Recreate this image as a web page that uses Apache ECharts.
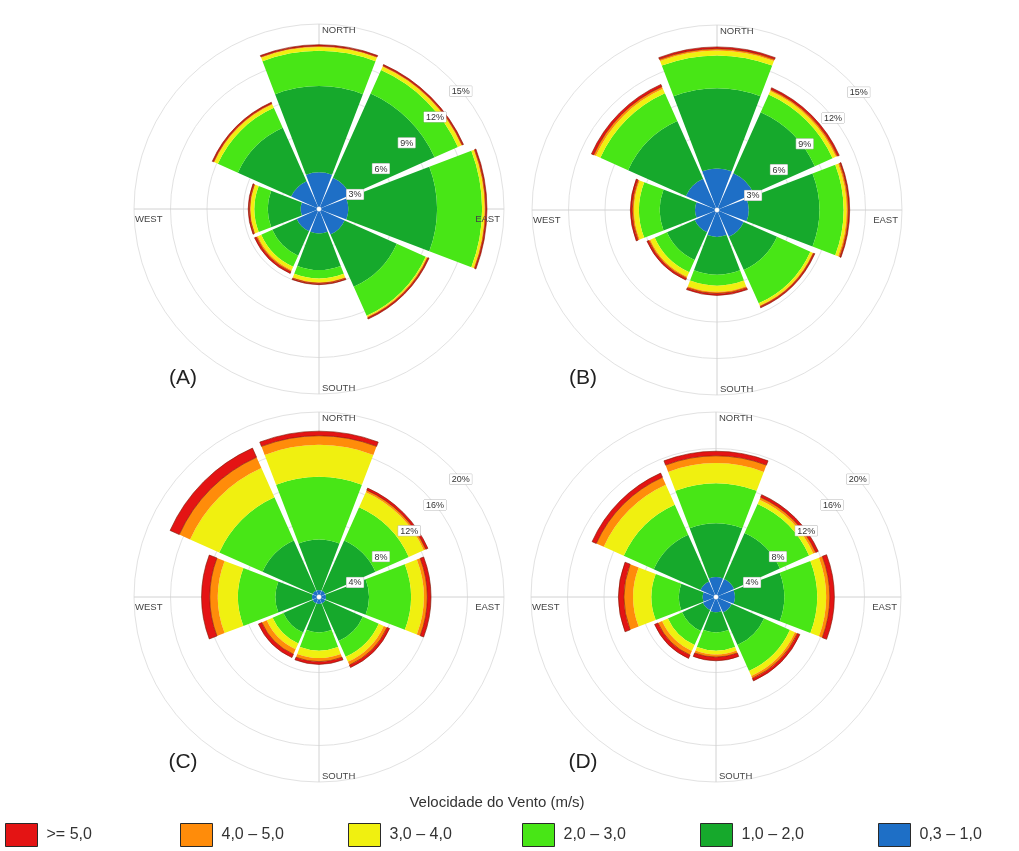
<!DOCTYPE html>
<html>
<head>
<meta charset="utf-8">
<script src="https://cdn.jsdelivr.net/npm/echarts@6/dist/echarts.min.js"></script>
<style>
html,body{margin:0;padding:0;background:#fff;}
#c{width:1019px;height:851px;}
</style>
</head>
<body>
<div id="c"></div>
<script>
// ---------- DATA ----------
const directions = ['N', 'NE', 'E', 'SE', 'S', 'SW', 'W', 'NW'];
const speedClasses = ['0,3 – 1,0', '1,0 – 2,0', '2,0 – 3,0', '3,0 – 4,0', '4,0 – 5,0', '>= 5,0'];
const legendOrder = ['>= 5,0', '4,0 – 5,0', '3,0 – 4,0', '2,0 – 3,0', '1,0 – 2,0', '0,3 – 1,0'];
const cardinalLabels = ['NORTH', 'EAST', 'SOUTH', 'WEST'];
const panelLabels = ['(A)', '(B)', '(C)', '(D)'];
const legendTitle = 'Velocidade do Vento (m/s)';
const ringTicksAB = [3, 6, 9, 12, 15];
const ringTicksCD = [4, 8, 12, 16, 20];

// frequency (%) per direction (N, NE, E, SE, S, SW, W, NW) for each speed class
// Panel A
const a_03_10 = [2.8, 2.6, 2.2, 2.1, 1.8, 1.8, 1.3, 2.3];
const a_10_20 = [7.1, 7.6, 7.3, 4.7, 3.0, 2.2, 2.7, 4.8];
const a_20_30 = [2.9, 2.1, 3.7, 2.6, 0.7, 1.0, 1.1, 1.8];
const a_30_40 = [0.3, 0.3, 0.2, 0.1, 0.3, 0.3, 0.3, 0.3];
const a_40_50 = [0.1, 0.1, 0.1, 0.1, 0.1, 0.15, 0.1, 0.1];
const a_50p   = [0.1, 0.1, 0.1, 0.1, 0.1, 0.15, 0.1, 0.1];
// Panel B
const b_03_10 = [3.2, 3.1, 2.4, 2.2, 2.0, 1.8, 1.6, 2.6];
const b_10_20 = [6.6, 5.5, 5.8, 3.0, 3.1, 2.5, 2.9, 5.2];
const b_20_30 = [2.7, 1.6, 2.0, 3.0, 0.9, 1.1, 1.7, 2.5];
const b_30_40 = [0.4, 0.3, 0.25, 0.2, 0.5, 0.4, 0.4, 0.4];
const b_40_50 = [0.15, 0.15, 0.15, 0.1, 0.15, 0.15, 0.15, 0.2];
const b_50p   = [0.15, 0.15, 0.1, 0.1, 0.15, 0.15, 0.15, 0.2];
// Panel C
const c_03_10 = [0.5, 0.5, 0.5, 0.5, 0.5, 0.5, 0.5, 0.5];
const c_10_20 = [5.5, 6.0, 4.7, 4.5, 3.1, 3.5, 4.0, 6.0];
const c_20_30 = [6.9, 4.0, 4.6, 1.9, 2.0, 1.3, 4.1, 5.2];
const c_30_40 = [3.5, 1.8, 1.4, 0.6, 0.8, 0.7, 2.2, 3.5];
const c_40_50 = [1.0, 0.25, 0.4, 0.4, 0.4, 0.6, 0.9, 1.3];
const c_50p   = [0.5, 0.25, 0.4, 0.3, 0.3, 0.4, 0.9, 1.1];
// Panel D
const d_03_10 = [1.9, 1.9, 1.8, 1.6, 1.4, 1.3, 1.2, 1.6];
const d_10_20 = [5.9, 5.5, 5.4, 3.9, 2.2, 2.5, 2.6, 5.6];
const d_20_30 = [4.4, 3.5, 3.6, 3.1, 2.0, 1.7, 3.0, 3.6];
const d_30_40 = [2.2, 0.5, 1.0, 0.6, 0.4, 0.7, 2.0, 2.4];
const d_40_50 = [0.8, 0.3, 0.4, 0.3, 0.3, 0.5, 1.0, 0.9];
const d_50p   = [0.5, 0.3, 0.5, 0.3, 0.4, 0.4, 0.6, 0.5];

// ---------- LAYOUT / STYLE ----------
const classColors = ['#1e6fc6', '#16a92c', '#48e616', '#f0f010', '#ff8c0a', '#e41414'];
const panels = [
  { data: [a_03_10, a_10_20, a_20_30, a_30_40, a_40_50, a_50p], ticks: ringTicksAB, center: [319, 209], tag: [183, 378] },
  { data: [b_03_10, b_10_20, b_20_30, b_30_40, b_40_50, b_50p], ticks: ringTicksAB, center: [717, 210], tag: [583, 378] },
  { data: [c_03_10, c_10_20, c_20_30, c_30_40, c_40_50, c_50p], ticks: ringTicksCD, center: [319, 597], tag: [183, 762] },
  { data: [d_03_10, d_10_20, d_20_30, d_30_40, d_40_50, d_50p], ticks: ringTicksCD, center: [716, 597], tag: [583, 762] }
];
const R = 185, INNER = 2.5;
const FONT = "'Liberation Sans', Arial, sans-serif";

const polar = [], angleAxis = [], radiusAxis = [], series = [], graphic = [];

panels.forEach((p, i) => {
  const maxV = p.ticks[p.ticks.length - 1];
  const step = p.ticks[1] - p.ticks[0];
  const cx = p.center[0], cy = p.center[1];
  const base = i * 3;
  // 0: grid (rings + cardinal lines), 1: bars, 2: ring labels
  for (let k = 0; k < 3; k++) polar.push({ center: [cx, cy], radius: [INNER, R] });

  // grid polar
  angleAxis.push({
    polarIndex: base, type: 'value', min: 0, max: 360, interval: 90, startAngle: 90,
    axisLine: { show: false }, axisTick: { show: false }, axisLabel: { show: false },
    splitLine: { show: true, lineStyle: { color: '#d2d2d2', width: 1 } }, z: 0
  });
  radiusAxis.push({
    polarIndex: base, type: 'value', min: 0, max: maxV, interval: step,
    axisLine: { show: false }, axisTick: { show: false }, axisLabel: { show: false },
    splitLine: { show: true, lineStyle: { color: '#e2e2e2', width: 1 } }, z: 0
  });

  // bars polar
  angleAxis.push({
    polarIndex: base + 1, type: 'category', data: directions, startAngle: 112.5, boundaryGap: true,
    axisLine: { show: false }, axisTick: { show: false }, axisLabel: { show: false },
    splitLine: { show: false }
  });
  radiusAxis.push({
    polarIndex: base + 1, type: 'value', min: 0, max: maxV,
    axisLine: { show: false }, axisTick: { show: false }, axisLabel: { show: false },
    splitLine: { show: false }
  });

  // ring label polar
  angleAxis.push({
    polarIndex: base + 2, type: 'value', min: 0, max: 360, startAngle: 45,
    axisLine: { show: false }, axisTick: { show: false }, axisLabel: { show: false },
    splitLine: { show: false }
  });
  radiusAxis.push({
    polarIndex: base + 2, type: 'value', min: 0, max: maxV, interval: step, z: 10,
    axisLine: { show: false }, axisTick: { show: false }, splitLine: { show: false },
    axisLabel: {
      show: true, showMinLabel: false, margin: 0, align: 'left', verticalAlign: 'top',
      formatter: v => '{b|' + v + '%}', padding: [8, 0, 0, 0],
      rich: {
        b: { fontSize: 9, fontFamily: FONT, color: '#333',
             backgroundColor: '#ffffff', borderColor: '#b8b8b8', borderWidth: 0.5, padding: [1, 2, 0, 2] }
      }
    }
  });

  speedClasses.forEach((name, k) => {
    const style = { color: classColors[k] };
    if (k === speedClasses.length - 1) { style.borderColor = '#7a1a04'; style.borderWidth = 0.6; }
    series.push({
      type: 'bar', name: name, coordinateSystem: 'polar', polarIndex: base + 1,
      stack: 'rose' + i, data: p.data[k], barCategoryGap: '7%',
      itemStyle: style, silent: true, z: 2,
      emphasis: { disabled: true }
    });
  });

  // cardinal labels
  const pos = [
    { x: cx + 3, y: cy - R + 1, align: 'left', verticalAlign: 'top' },
    { x: cx + R - 4, y: cy + 5, align: 'right', verticalAlign: 'top' },
    { x: cx + 3, y: cy + R - 1, align: 'left', verticalAlign: 'bottom' },
    { x: cx - R + 1, y: cy + 5, align: 'left', verticalAlign: 'top' }
  ];
  cardinalLabels.forEach((t, k) => {
    graphic.push({
      type: 'text', x: pos[k].x, y: pos[k].y, z: 20,
      style: { text: t, fill: '#444', fontSize: 9.5, fontFamily: FONT,
               align: pos[k].align, verticalAlign: pos[k].verticalAlign }
    });
  });
  graphic.push({
    type: 'text', x: p.tag[0], y: p.tag[1], z: 20,
    style: { text: panelLabels[i], fill: '#222', fontSize: 21, fontFamily: FONT,
             align: 'center', verticalAlign: 'middle' }
  });
});

graphic.push({
  type: 'text', x: 497, y: 803, z: 20,
  style: { text: legendTitle, fill: '#333', fontSize: 15, fontFamily: FONT,
           align: 'center', verticalAlign: 'middle' }
});

const legendLefts = [5, 180, 348, 522, 700, 878];
const legend = legendOrder.map((name, k) => ({
  data: [name], left: legendLefts[k], top: 823, orient: 'horizontal',
  itemWidth: 32, itemHeight: 23, itemGap: 0, padding: 0,
  icon: 'rect',
  itemStyle: { borderColor: '#2a2a2a', borderWidth: 1 },
  textStyle: { fontSize: 16, fontFamily: FONT, color: '#333', padding: [0, 0, 0, 4] },
  selectedMode: false
}));

const chart = echarts.init(document.getElementById('c'));
chart.setOption({
  backgroundColor: '#ffffff',
  animation: false,
  polar, angleAxis, radiusAxis, series, legend, graphic
});
</script>
</body>
</html>
